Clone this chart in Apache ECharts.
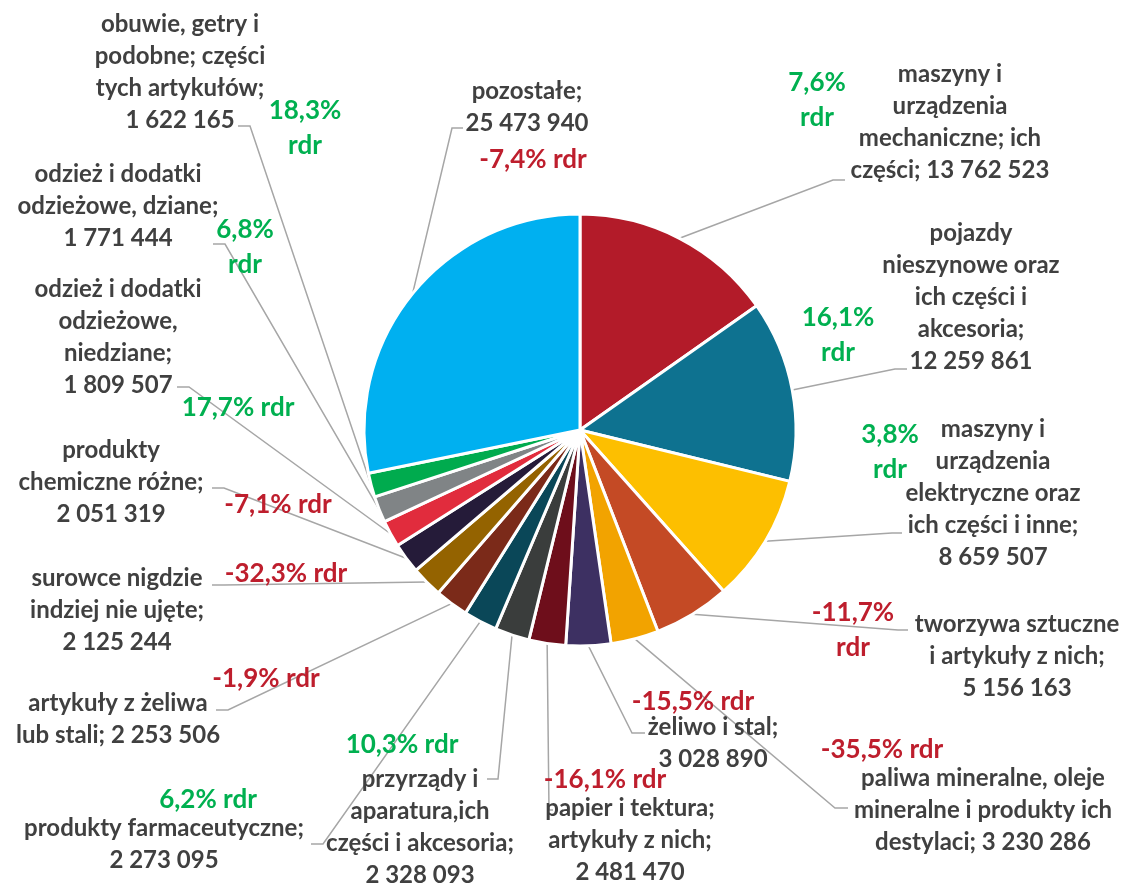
<!DOCTYPE html>
<html lang="pl">
<head>
    <meta charset="UTF-8">
    <title>pie</title>
    <script src="https://cdn.jsdelivr.net/npm/echarts@6/dist/echarts.min.js"></script>
    <style>
        html, body { margin: 0; padding: 0; background: #fff; }
    </style>
</head>
<body>
<div id="main" style="width: 1127px; height: 885px;"></div>
<script>
    // dane
    var names = [
        'maszyny i\nurządzenia\nmechaniczne; ich\nczęści',
        'pojazdy\nnieszynowe oraz\nich części i\nakcesoria',
        'maszyny i\nurządzenia\nelektryczne oraz\nich części i inne',
        'tworzywa sztuczne\ni artykuły z nich',
        'paliwa mineralne, oleje\nmineralne i produkty ich\ndestylaci',
        'żeliwo i stal',
        'papier i tektura;\nartykuły z nich',
        'przyrządy i\naparatura,ich\nczęści i akcesoria',
        'produkty farmaceutyczne',
        'artykuły z żeliwa\nlub stali',
        'surowce nigdzie\nindziej nie ujęte',
        'produkty\nchemiczne różne',
        'odzież i dodatki\nodzieżowe,\nniedziane',
        'odzież i dodatki\nodzieżowe, dziane',
        'obuwie, getry i\npodobne; części\ntych artykułów',
        'pozostałe'
    ];
    var values = [13762523, 12259861, 8659507, 5156163, 3230286, 3028890, 2481470, 2328093,
        2273095, 2253506, 2125244, 2051319, 1809507, 1771444, 1622165, 25473940];
    var rdr = [7.6, 16.1, 3.8, -11.7, -35.5, -15.5, -16.1, 10.3, 6.2, -1.9, -32.3, -7.1, 17.7, 6.8, 18.3, -7.4];

    var colors = ['#B31B29', '#0E7290', '#FDBF00', '#C44A25', '#F2A300', '#3D3062', '#6E0E1B', '#3A3D3C',
        '#0A4758', '#7B2A19', '#946300', '#251B39', '#E12C3D', '#808486', '#00AB4E', '#00B0F0'];

    // rozmieszczenie etykiet
    var valueBreak = [false, true, true, true, false, true, true, true, true, false, true, true, true, true, true, true];
    var labelPos = [[950, 122], [971, 297], [993, 493], [1017, 656], [983, 810], [713, 743], [630, 840], [420, 827],
        [164, 844], [118, 719], [117, 610], [111, 482], [118, 337], [118, 206], [180, 72], [527, 107]];
    var lineEnd = [[845, 180, -12], [907, 369, -12], [902, 533, -10], [908, 630, -10], [848, 808, -13], [645, 733, -13],
        [553, 810, -4], [487, 779, 11], [311, 844, 12], [216, 710, 12], [212, 585, 12], [212, 488, 12],
        [177, 387, 12], [213, 244, 12], [238, 126, 12], [463, 128, -11]];
    var rdrPos = [[817, 100], [838, 335], [890, 452], [853, 630], [882, 750], [693, 702], [605, 780], [402, 745],
        [208, 800], [266, 679], [286, 574], [278, 505], [238, 408], [245, 247], [305, 128], [533, 160]];
    var rdrWrap = [true, true, true, true, false, false, false, false, false, false, false, false, false, true, true, false];

    function fmt(v) {
        return String(v).replace(/\B(?=(\d{3})+(?!\d))/g, ' ');
    }

    var myChart = echarts.init(document.getElementById('main'));

    var mainData = [];
    var rdrData = [];
    for (var i = 0; i < values.length; i++) {
        mainData.push({name: names[i], value: values[i], itemStyle: {color: colors[i]}});
        rdrData.push({
            name: names[i],
            value: values[i],
            label: {color: rdr[i] >= 0 ? '#00B050' : '#BE1E2D'}
        });
    }

    var option = {
        animation: false,
        series: [
            {
                name: 'rdr',
                type: 'pie',
                center: [580, 430],
                radius: 215,
                silent: true,
                avoidLabelOverlap: false,
                itemStyle: {color: 'rgba(0,0,0,0)', borderWidth: 0},
                label: {
                    show: true,
                    position: 'outside',
                    fontFamily: 'Lato',
                    fontWeight: 'bold',
                    fontSize: 26,
                    lineHeight: 35,
                    align: 'center',
                    formatter: function (p) {
                        var i = p.dataIndex;
                        var t = String(rdr[i]).replace('.', ',') + '%';
                        return t + (rdrWrap[i] ? '\n' : ' ') + 'rdr';
                    }
                },
                labelLine: {show: false},
                labelLayout: function (p) {
                    var pos = rdrPos[p.dataIndex];
                    return {x: pos[0], y: pos[1], align: 'center', verticalAlign: 'middle'};
                },
                emphasis: {disabled: true},
                data: rdrData
            },
            {
                name: 'eksport',
                type: 'pie',
                center: [580, 430],
                radius: 216,
                avoidLabelOverlap: false,
                itemStyle: {borderColor: '#fff', borderWidth: 3},
                label: {
                    show: true,
                    position: 'outside',
                    color: '#404040',
                    fontFamily: 'Lato',
                    fontWeight: 'bold',
                    fontSize: 24,
                    lineHeight: 32,
                    align: 'center',
                    formatter: function (p) {
                        var i = p.dataIndex;
                        return names[i] + ';' + (valueBreak[i] ? '\n' : ' ') + fmt(values[i]);
                    }
                },
                labelLine: {
                    show: true,
                    lineStyle: {color: '#A6A6A6', width: 1.5}
                },
                labelLayout: function (p) {
                    var i = p.dataIndex;
                    var pos = labelPos[i];
                    var e = lineEnd[i];
                    var start = p.labelLinePoints ? p.labelLinePoints[0] : [e[0], e[1]];
                    return {
                        x: pos[0],
                        y: pos[1],
                        align: 'center',
                        verticalAlign: 'middle',
                        labelLinePoints: [start, [e[0] + e[2], e[1]], [e[0], e[1]]]
                    };
                },
                emphasis: {disabled: true},
                data: mainData
            }
        ]
    };
    myChart.setOption(option);
</script>
</body>
</html>
